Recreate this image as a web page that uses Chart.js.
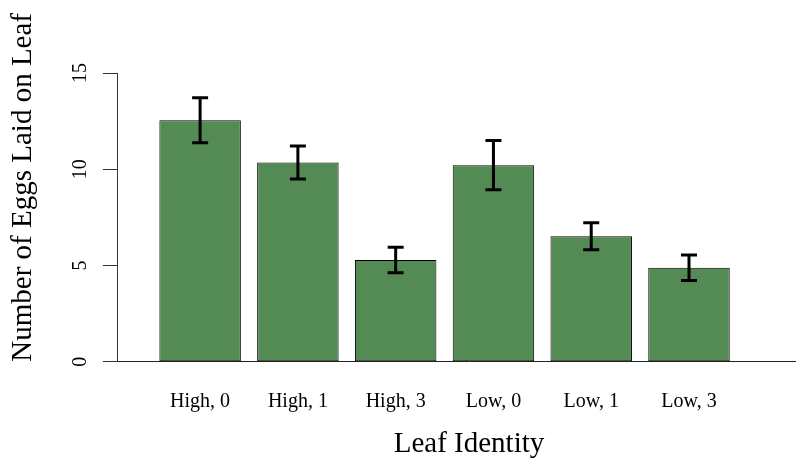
<!DOCTYPE html>
<html>
<head>
<meta charset="utf-8">
<script src="https://cdn.jsdelivr.net/npm/chart.js@4/dist/chart.umd.min.js"></script>
<style>
  html, body { margin: 0; padding: 0; background: #fff; }
  #frame { width: 796px; height: 463px; overflow: hidden; position: relative; }
  canvas { display: block; }
</style>
</head>
<body>
<div id="frame"><canvas id="eggs" width="821" height="463"></canvas></div>
<script>
// Leaf treatments and mean egg counts with standard errors
const categories = ['High, 0', 'High, 1', 'High, 3', 'Low, 0', 'Low, 1', 'Low, 3'];
const meanEggs   = [12.54, 10.35, 5.28, 10.21, 6.52, 4.88];
const stdError   = [1.17, 0.86, 0.66, 1.28, 0.70, 0.66];
const yTicks     = [0, 5, 10, 15];

// barplot-style placement: bars of width 1 separated by 0.2
const SPACE = 0.2, WIDTH = 1;
const centers = categories.map((_, i) => SPACE + i * (WIDTH + SPACE) + WIDTH / 2);

const serif = "'Liberation Serif', 'Times New Roman', Times, serif";

const errorBars = {
  id: 'errorBars',
  afterDatasetsDraw(chart) {
    const { ctx, scales: { y } } = chart;
    const meta = chart.getDatasetMeta(0);
    ctx.save();
    ctx.strokeStyle = '#000';
    ctx.lineWidth = 3;
    ctx.lineCap = 'butt';
    meta.data.forEach((bar, i) => {
      const top = y.getPixelForValue(meanEggs[i] + stdError[i]);
      const bot = y.getPixelForValue(meanEggs[i] - stdError[i]);
      const cap = 8;
      ctx.beginPath();
      ctx.moveTo(bar.x, top); ctx.lineTo(bar.x, bot);
      ctx.moveTo(bar.x - cap, top); ctx.lineTo(bar.x + cap, top);
      ctx.moveTo(bar.x - cap, bot); ctx.lineTo(bar.x + cap, bot);
      ctx.stroke();
    });
    ctx.restore();
  }
};

new Chart(document.getElementById('eggs'), {
  type: 'bar',
  data: {
    datasets: [{
      data: categories.map((c, i) => ({ x: centers[i], y: meanEggs[i] })),
      backgroundColor: '#548B54',
      borderColor: '#000',
      borderWidth: 1,
      borderSkipped: false,
      categoryPercentage: 1,
      barPercentage: WIDTH / (WIDTH + SPACE)
    }]
  },
  plugins: [errorBars],
  options: {
    responsive: false,
    animation: false,
    devicePixelRatio: 1,
    layout: { padding: { top: 73, right: 0, bottom: 0, left: 0 } },
    plugins: { legend: { display: false }, tooltip: { enabled: false } },
    scales: {
      x: {
        type: 'linear',
        offset: false,
        min: -0.32,
        max: 8.32,
        afterBuildTicks(scale) { scale.ticks = centers.map(v => ({ value: v })); },
        afterFit(scale) { scale.height = 101.3; },
        grid: { display: false, drawTicks: false, offset: false },
        border: { display: true, color: '#222', width: 1 },
        ticks: {
          autoSkip: false, maxRotation: 0, minRotation: 0, padding: 28,
          color: '#000', font: { family: serif, size: 20 },
          callback: (v, i) => categories[i]
        },
        title: {
          display: true, text: 'Leaf Identity', color: '#000',
          font: { family: serif, size: 29, lineHeight: 1.2 },
          padding: { top: 0, bottom: 1 }
        }
      },
      y: {
        min: 0,
        max: 15,
        afterBuildTicks(scale) { scale.ticks = yTicks.map(v => ({ value: v })); },
        afterFit(scale) { scale.width = 117; },
        grid: { display: true, drawOnChartArea: false, drawTicks: true, tickLength: 14, color: '#333', tickColor: '#333' },
        border: { display: true, color: '#333', width: 1 },
        ticks: {
          minRotation: 90, maxRotation: 90, crossAlign: 'center', padding: 12,
          color: '#000', font: { family: serif, size: 20 }
        },
        title: {
          display: true, text: 'Number of Eggs Laid on Leaf', color: '#000', align: 'start',
          font: { family: serif, size: 29, lineHeight: 1.2 },
          padding: { top: 6, bottom: 0 }
        }
      }
    }
  }
});
</script>
</body>
</html>
